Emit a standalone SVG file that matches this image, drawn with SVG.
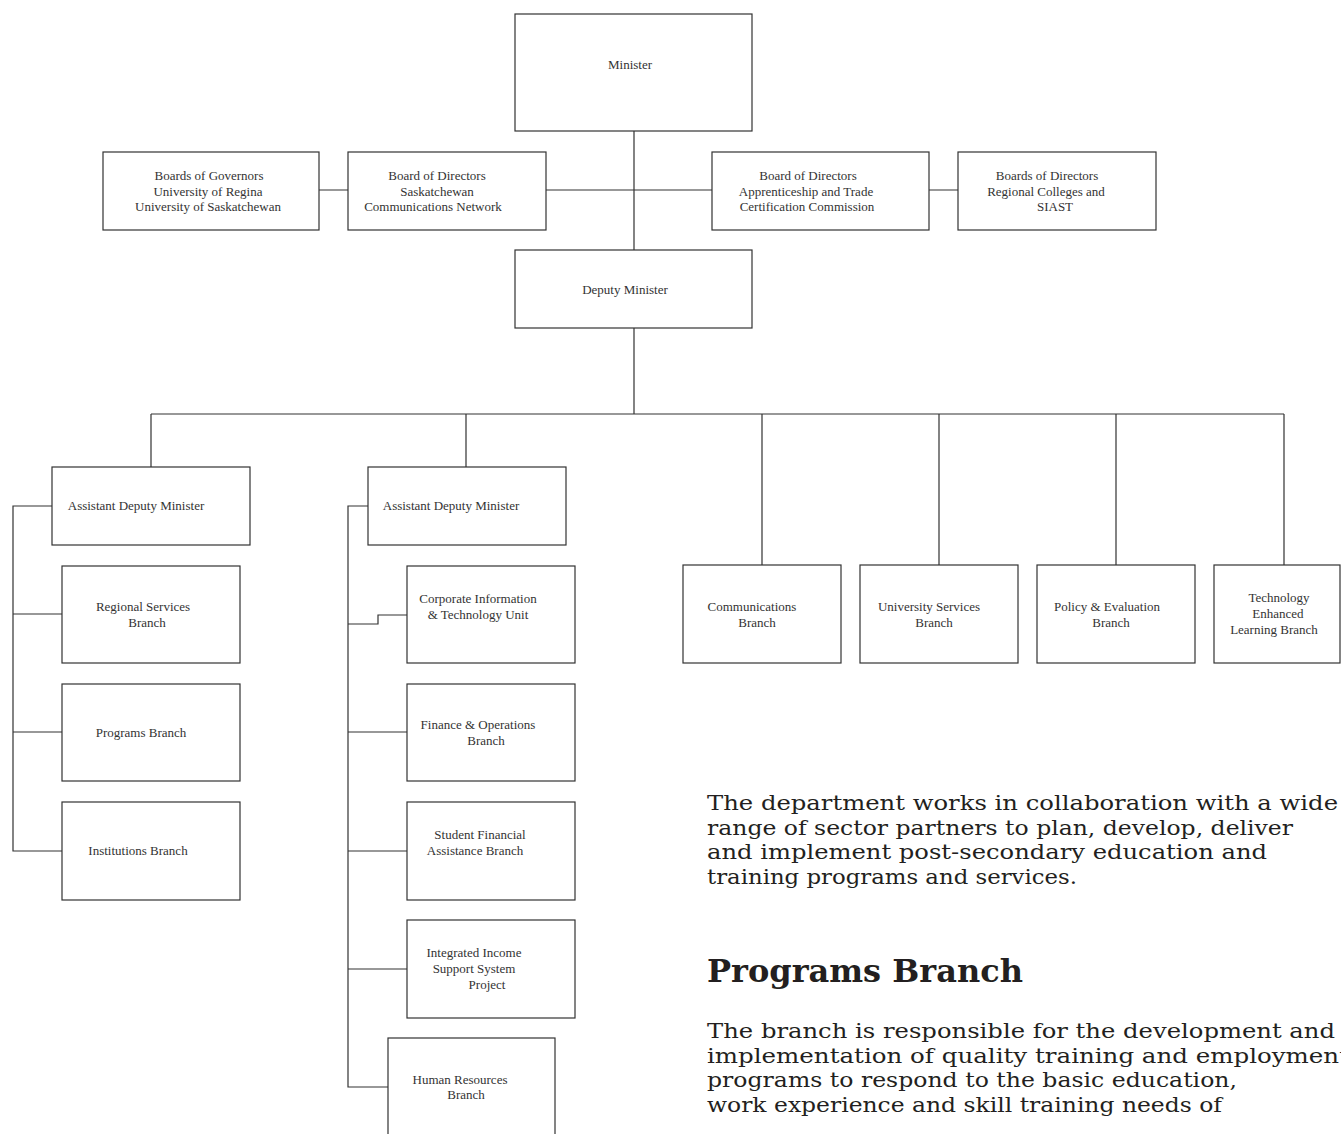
<svg xmlns="http://www.w3.org/2000/svg" width="1341" height="1134" viewBox="0 0 1341 1134">
<style>
.box{fill:#fff;stroke:#333;stroke-width:1.2}
.lbl{font-family:"Liberation Serif","Times New Roman",serif;font-size:13px;fill:#333;text-anchor:middle}
.conn{fill:none;stroke:#333;stroke-width:1.2}
.body{font-family:"DejaVu Serif",serif;font-size:21px;fill:#231f20}
.head{font-family:"DejaVu Serif",serif;font-size:32px;font-weight:bold;fill:#231f20}
</style>
<rect width="1341" height="1134" fill="#fff"/>
<g id="connectors">
<path class="conn" d="M634 131V250M546 190H712M319 190H348M929 190H958"/>
<path class="conn" d="M634 328V414M151 414H1284M151 414V467M466 414V467M762 414V565M939 414V565M1116 414V565M1284 414V565"/>
<path class="conn" d="M52 506H13V851H62M13 614H62M13 732H62"/>
<path class="conn" d="M368 506H348V1087H388M348 624H378V615H407M348 732H407M348 851H407M348 969H407"/>
</g>
<g id="minister"><rect class="box" x="515" y="14" width="237" height="117"/><text class="lbl" x="630" y="69">Minister</text></g>
<g id="bog"><rect class="box" x="103" y="152" width="216" height="78"/><text class="lbl" y="180"><tspan x="209">Boards of Governors</tspan><tspan x="208" dy="15.5">University of Regina</tspan><tspan x="208" dy="15.5">University of Saskatchewan</tspan></text></g>
<g id="scn"><rect class="box" x="348" y="152" width="198" height="78"/><text class="lbl" y="180"><tspan x="437">Board of Directors</tspan><tspan x="437" dy="15.5">Saskatchewan</tspan><tspan x="433" dy="15.5">Communications Network</tspan></text></g>
<g id="atcc"><rect class="box" x="712" y="152" width="217" height="78"/><text class="lbl" y="180"><tspan x="808">Board of Directors</tspan><tspan x="806" dy="15.5">Apprenticeship and Trade</tspan><tspan x="807" dy="15.5">Certification Commission</tspan></text></g>
<g id="rc"><rect class="box" x="958" y="152" width="198" height="78"/><text class="lbl" y="180"><tspan x="1047">Boards of Directors</tspan><tspan x="1046" dy="15.5">Regional Colleges and</tspan><tspan x="1055" dy="15.5">SIAST</tspan></text></g>
<g id="dm"><rect class="box" x="515" y="250" width="237" height="78"/><text class="lbl" x="625" y="294">Deputy Minister</text></g>
<g id="adm1"><rect class="box" x="52" y="467" width="198" height="78"/><text class="lbl" x="136" y="510">Assistant Deputy Minister</text></g>
<g id="rsb"><rect class="box" x="62" y="566" width="178" height="97"/><text class="lbl" y="611"><tspan x="143">Regional Services</tspan><tspan x="147" dy="16">Branch</tspan></text></g>
<g id="pb"><rect class="box" x="62" y="684" width="178" height="97"/><text class="lbl" x="141" y="737">Programs Branch</text></g>
<g id="ib"><rect class="box" x="62" y="802" width="178" height="98"/><text class="lbl" x="138" y="855">Institutions Branch</text></g>
<g id="adm2"><rect class="box" x="368" y="467" width="198" height="78"/><text class="lbl" x="451" y="510">Assistant Deputy Minister</text></g>
<g id="citu"><rect class="box" x="407" y="566" width="168" height="97"/><text class="lbl" y="603"><tspan x="478">Corporate Information</tspan><tspan x="478" dy="16">&amp; Technology Unit</tspan></text></g>
<g id="fob"><rect class="box" x="407" y="684" width="168" height="97"/><text class="lbl" y="729"><tspan x="478">Finance &amp; Operations</tspan><tspan x="486" dy="16">Branch</tspan></text></g>
<g id="sfab"><rect class="box" x="407" y="802" width="168" height="98"/><text class="lbl" y="839"><tspan x="480">Student Financial</tspan><tspan x="475" dy="16">Assistance Branch</tspan></text></g>
<g id="iissp"><rect class="box" x="407" y="920" width="168" height="98"/><text class="lbl" y="957"><tspan x="474">Integrated Income</tspan><tspan x="474" dy="16">Support System</tspan><tspan x="487" dy="16">Project</tspan></text></g>
<g id="hrb"><rect class="box" x="388" y="1038" width="167" height="110"/><text class="lbl" y="1084"><tspan x="460">Human Resources</tspan><tspan x="466" dy="14.5">Branch</tspan></text></g>
<g id="cb"><rect class="box" x="683" y="565" width="158" height="98"/><text class="lbl" y="611"><tspan x="752">Communications</tspan><tspan x="757" dy="16">Branch</tspan></text></g>
<g id="usb"><rect class="box" x="860" y="565" width="158" height="98"/><text class="lbl" y="611"><tspan x="929">University Services</tspan><tspan x="934" dy="16">Branch</tspan></text></g>
<g id="peb"><rect class="box" x="1037" y="565" width="158" height="98"/><text class="lbl" y="611"><tspan x="1107">Policy &amp; Evaluation</tspan><tspan x="1111" dy="16">Branch</tspan></text></g>
<g id="telb"><rect class="box" x="1214" y="565" width="126" height="98"/><text class="lbl" y="602"><tspan x="1279">Technology</tspan><tspan x="1278" dy="16">Enhanced</tspan><tspan x="1274" dy="16">Learning Branch</tspan></text></g>
<g id="text">
<text class="body" x="707" y="810" textLength="631" lengthAdjust="spacingAndGlyphs">The department works in collaboration with a wide</text>
<text class="body" x="707" y="835" textLength="586" lengthAdjust="spacingAndGlyphs">range of sector partners to plan, develop, deliver</text>
<text class="body" x="707" y="859" textLength="560" lengthAdjust="spacingAndGlyphs">and implement post-secondary education and</text>
<text class="body" x="707" y="884" textLength="370" lengthAdjust="spacingAndGlyphs">training programs and services.</text>
<text class="head" x="707" y="982">Programs Branch</text>
<text class="body" x="707" y="1038" textLength="628" lengthAdjust="spacingAndGlyphs">The branch is responsible for the development and</text>
<text class="body" x="707" y="1063" textLength="642" lengthAdjust="spacingAndGlyphs">implementation of quality training and employment</text>
<text class="body" x="707" y="1087" textLength="530" lengthAdjust="spacingAndGlyphs">programs to respond to the basic education,</text>
<text class="body" x="707" y="1112" textLength="515" lengthAdjust="spacingAndGlyphs">work experience and skill training needs of</text>
</g>
</svg>
